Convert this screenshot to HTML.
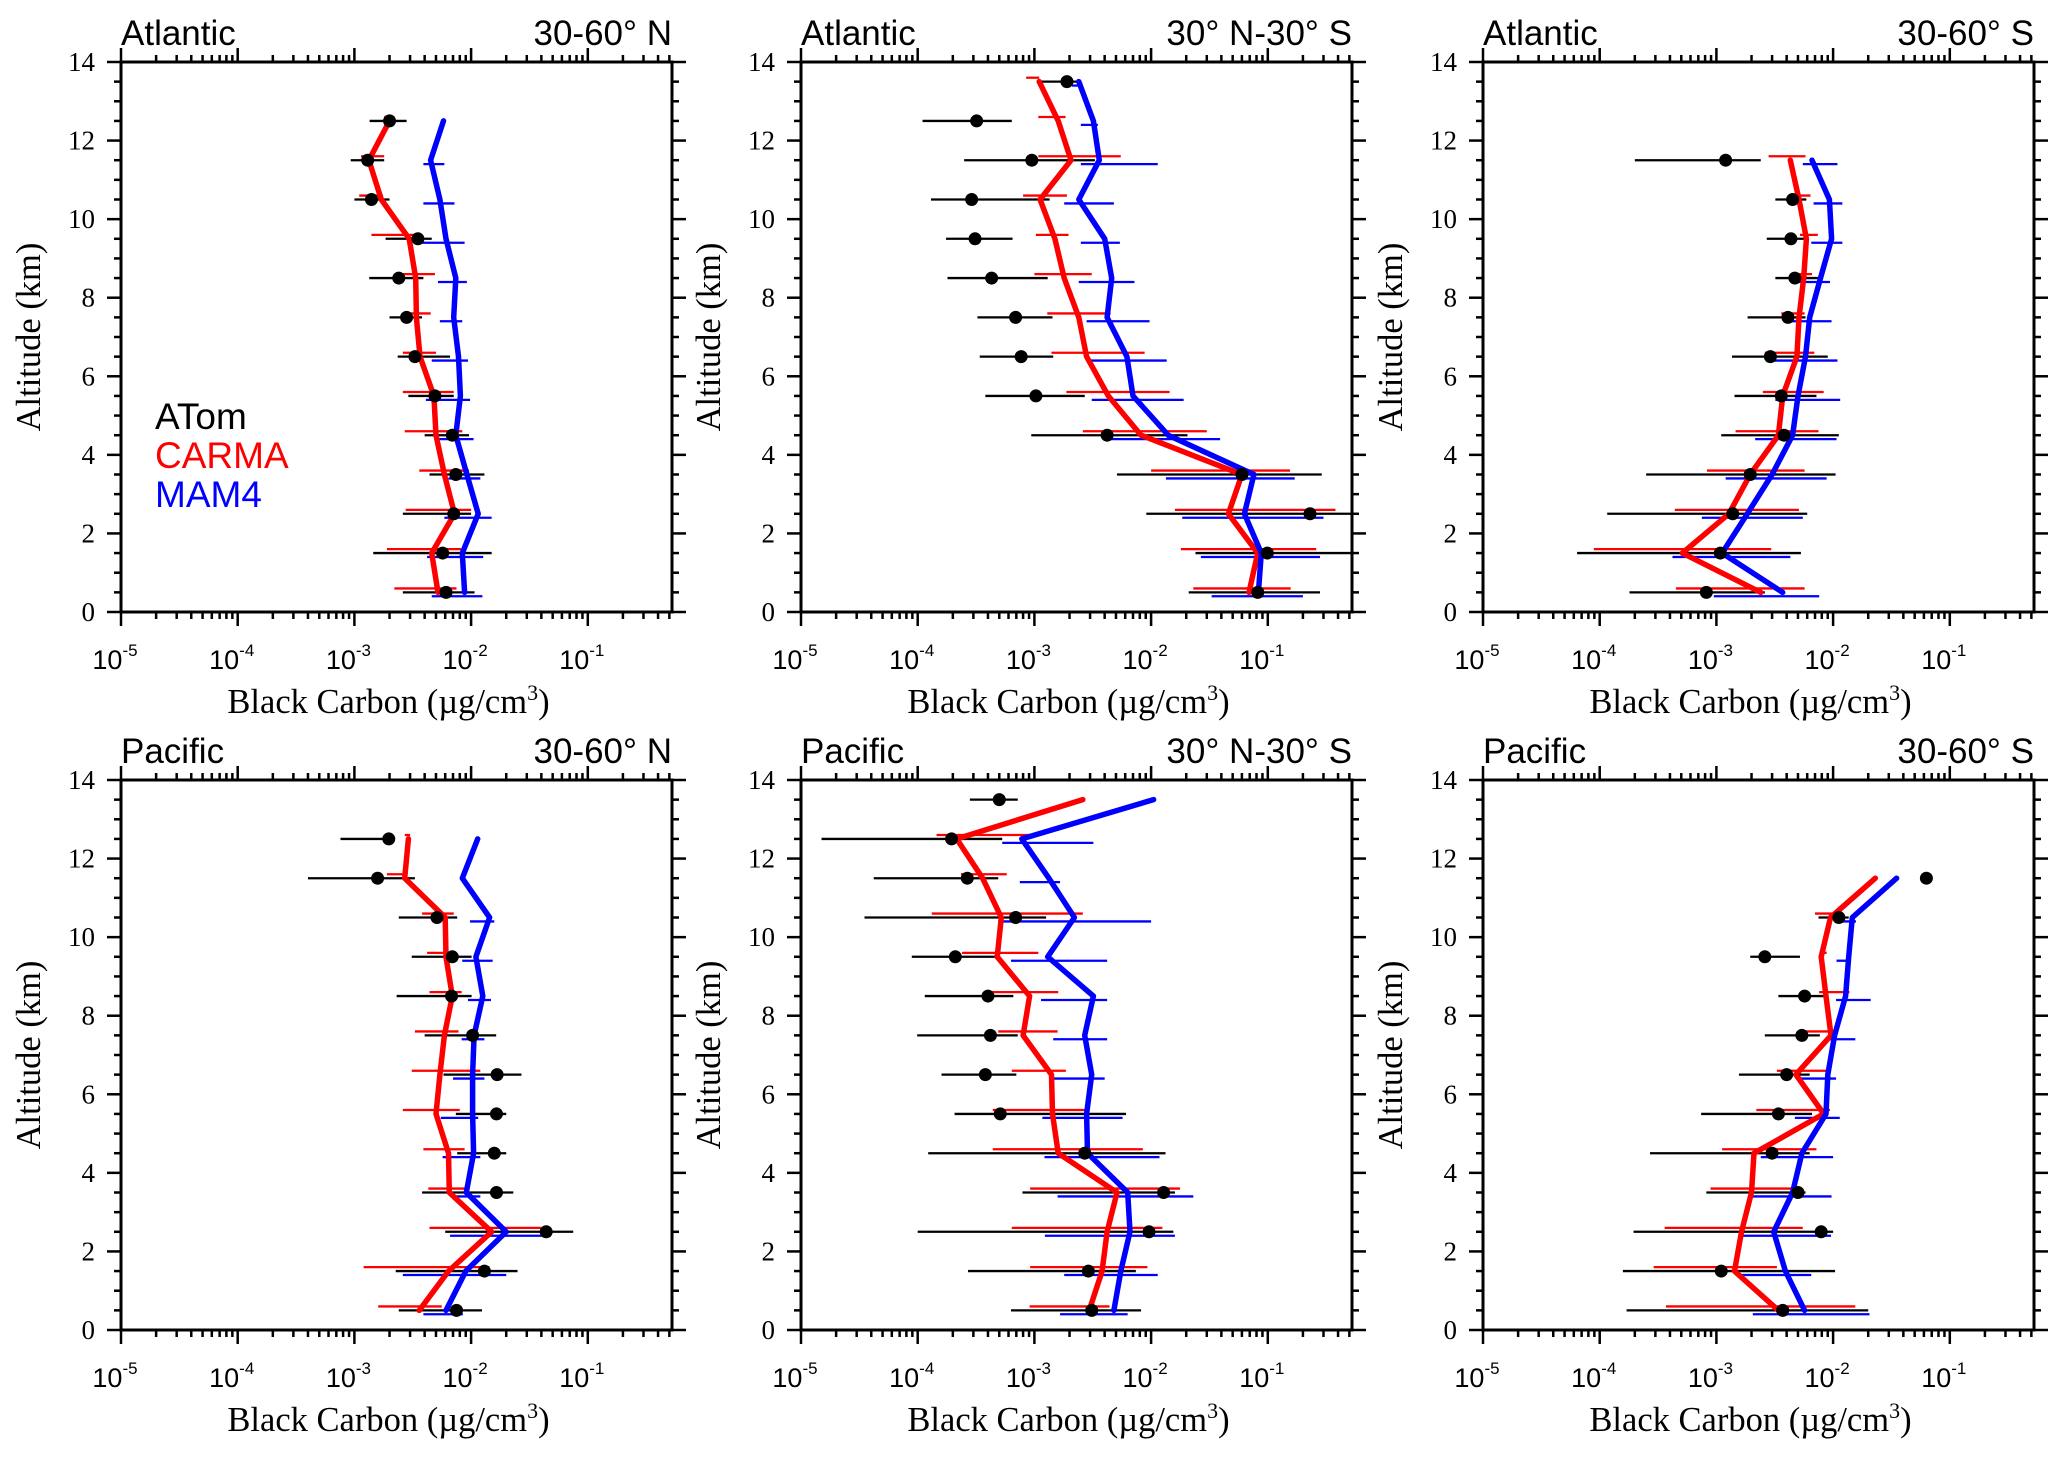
<!DOCTYPE html>
<html><head><meta charset="utf-8"><style>
html,body{margin:0;padding:0;background:#fff;}
svg{display:block;}
.sans{font-family:"Liberation Sans",Arial,sans-serif;}
.serif{font-family:"Liberation Serif","Times New Roman",serif;}
</style></head><body>
<svg id="fig" width="2067" height="1458" viewBox="0 0 2067 1458" xmlns="http://www.w3.org/2000/svg"></svg>
<script>
// ---------- data (values in ug/cm3, altitude in km) ----------
const p1Alt=[12.5,11.5,10.5,9.5,8.5,7.5,6.5,5.5,4.5,3.5,2.5,1.5,0.5];
const p1Atom=[2.0e-3,1.3e-3,1.4e-3,3.5e-3,2.4e-3,2.8e-3,3.3e-3,4.9e-3,6.9e-3,7.4e-3,7.1e-3,5.7e-3,6.1e-3];
const p1AtomLo=[1.35e-3,0.93e-3,1.0e-3,1.85e-3,1.34e-3,2.0e-3,2.35e-3,2.9e-3,4.0e-3,4.4e-3,2.6e-3,1.45e-3,2.6e-3];
const p1AtomHi=[2.8e-3,1.8e-3,2.0e-3,4.6e-3,3.9e-3,3.8e-3,6.6e-3,7.1e-3,9.6e-3,1.3e-2,1.0e-2,1.5e-2,1.07e-2];
const p1Carma=[2.0e-3,1.33e-3,1.7e-3,2.95e-3,3.35e-3,3.4e-3,3.65e-3,4.8e-3,5.0e-3,5.9e-3,7.2e-3,4.6e-3,5.2e-3];
const p1CarmaLo=[1.8e-3,1.14e-3,1.1e-3,1.4e-3,2.4e-3,2.6e-3,2.6e-3,2.6e-3,2.7e-3,3.6e-3,2.75e-3,1.9e-3,2.2e-3];
const p1CarmaHi=[2.2e-3,1.8e-3,1.75e-3,3.8e-3,4.9e-3,4.5e-3,5.0e-3,7.1e-3,8.4e-3,9.6e-3,1.0e-2,8.2e-3,7.5e-3];
const p1Mam=[5.8e-3,4.5e-3,5.4e-3,6.1e-3,7.4e-3,7.1e-3,7.8e-3,8.1e-3,7.4e-3,9.2e-3,1.15e-2,8.4e-3,8.8e-3];
const p1MamLo=[null,3.9e-3,3.9e-3,3.5e-3,5.2e-3,5.4e-3,4.6e-3,4.1e-3,5.0e-3,6.4e-3,5.9e-3,4.2e-3,4.6e-3];
const p1MamHi=[null,5.9e-3,7.2e-3,8.8e-3,9.2e-3,8.4e-3,9.4e-3,9.8e-3,1.05e-2,1.2e-2,1.5e-2,1.27e-2,1.25e-2];

const p2Alt=[13.5,12.5,11.5,10.5,9.5,8.5,7.5,6.5,5.5,4.5,3.5,2.5,1.5,0.5];
const p2Atom=[1.9e-3,3.2e-4,9.5e-4,2.9e-4,3.1e-4,4.3e-4,6.9e-4,7.7e-4,1.03e-3,4.2e-3,6.0e-2,0.23,9.9e-2,8.2e-2];
const p2AtomLo=[1.1e-3,1.1e-4,2.5e-4,1.3e-4,1.75e-4,1.8e-4,3.25e-4,3.4e-4,3.8e-4,9.4e-4,5.1e-3,9.1e-3,2.4e-2,2.1e-2];
const p2AtomHi=[2.4e-3,6.4e-4,3.3e-3,1.35e-3,6.5e-4,1.3e-3,1.43e-3,1.45e-3,2.7e-3,2.05e-2,0.29,0.7,0.6,0.28];
const p2Carma=[1.1e-3,1.6e-3,2.06e-3,1.12e-3,1.5e-3,1.8e-3,2.4e-3,2.8e-3,4.3e-3,8.2e-3,6.0e-2,4.6e-2,8.2e-2,6.9e-2];
const p2CarmaLo=[8.5e-4,1.08e-3,1.08e-3,8.0e-4,1.03e-3,1.0e-3,1.29e-3,1.4e-3,1.88e-3,2.6e-3,1.0e-2,1.6e-2,1.8e-2,2.3e-2];
const p2CarmaHi=[1.1e-3,1.85e-3,5.5e-3,1.9e-3,1.96e-3,3.1e-3,4.5e-3,8.8e-3,1.44e-2,3.0e-2,0.155,0.38,0.26,0.157];
const p2Mam=[2.4e-3,3.2e-3,3.6e-3,2.4e-3,4.0e-3,4.6e-3,4.2e-3,6.2e-3,7.0e-3,1.4e-2,7.6e-2,6.3e-2,8.8e-2,8.3e-2];
const p2MamLo=[2.1e-3,2.5e-3,2.5e-3,1.8e-3,2.5e-3,2.4e-3,2.8e-3,3.0e-3,3.1e-3,4.5e-3,1.34e-2,1.85e-2,2.67e-2,3.3e-2];
const p2MamHi=[2.6e-3,3.5e-3,1.14e-2,4.8e-3,5.4e-3,7.2e-3,9.7e-3,1.36e-2,1.9e-2,3.9e-2,0.17,0.30,0.28,0.20];

const p3Alt=[11.5,10.5,9.5,8.5,7.5,6.5,5.5,4.5,3.5,2.5,1.5,0.5];
const p3Atom=[1.2e-3,4.5e-3,4.35e-3,4.7e-3,4.1e-3,2.9e-3,3.6e-3,3.8e-3,1.95e-3,1.38e-3,1.08e-3,8.2e-4];
const p3AtomLo=[2.0e-4,3.2e-3,2.7e-3,3.2e-3,1.85e-3,1.36e-3,1.43e-3,1.1e-3,2.5e-4,1.16e-4,6.4e-5,1.8e-4];
const p3AtomHi=[2.4e-3,5.9e-3,5.7e-3,7.7e-3,5.8e-3,9.0e-3,7.2e-3,1.12e-2,1.05e-2,6.0e-3,5.3e-3,2.6e-3];
const p3Carma=[4.3e-3,5.1e-3,5.9e-3,5.6e-3,5.1e-3,4.9e-3,3.7e-3,3.4e-3,1.95e-3,1.28e-3,5.1e-4,2.4e-3];
const p3CarmaLo=[2.8e-3,4.5e-3,5.2e-3,4.5e-3,3.6e-3,2.6e-3,2.5e-3,1.46e-3,8.3e-4,4.4e-4,8.9e-5,4.5e-4];
const p3CarmaHi=[5.8e-3,6.4e-3,7.4e-3,6.6e-3,5.7e-3,6.9e-3,8.3e-3,7.5e-3,5.7e-3,5.1e-3,2.95e-3,5.7e-3];
const p3Mam=[6.6e-3,9.3e-3,9.7e-3,7.8e-3,6.3e-3,5.8e-3,5.0e-3,4.5e-3,3.0e-3,1.84e-3,1.12e-3,3.7e-3];
const p3MamLo=[5.5e-3,6.8e-3,6.5e-3,5.1e-3,3.9e-3,3.1e-3,3.2e-3,2.15e-3,1.2e-3,7.5e-4,4.2e-4,9.5e-4];
const p3MamHi=[1.09e-2,1.2e-2,1.2e-2,9.4e-3,9.7e-3,1.09e-2,1.15e-2,1.07e-2,8.8e-3,5.5e-3,4.3e-3,7.6e-3];

const p4Alt=[12.5,11.5,10.5,9.5,8.5,7.5,6.5,5.5,4.5,3.5,2.5,1.5,0.5];
const p4Atom=[1.97e-3,1.58e-3,5.1e-3,6.9e-3,6.8e-3,1.03e-2,1.67e-2,1.65e-2,1.58e-2,1.65e-2,4.4e-2,1.3e-2,7.5e-3];
const p4AtomLo=[7.6e-4,4.0e-4,2.4e-3,3.1e-3,2.3e-3,4.0e-3,5.8e-3,7.4e-3,7.6e-3,3.8e-3,6.0e-3,2.26e-3,2.4e-3];
const p4AtomHi=[2.2e-3,3.3e-3,7.6e-3,1.01e-2,1.01e-2,1.64e-2,2.7e-2,2.0e-2,2.0e-2,2.3e-2,7.5e-2,2.5e-2,1.24e-2];
const p4Carma=[2.9e-3,2.7e-3,6.0e-3,6.1e-3,6.9e-3,5.9e-3,5.4e-3,5.0e-3,6.4e-3,6.5e-3,1.5e-2,6.4e-3,3.6e-3];
const p4CarmaLo=[2.7e-3,1.9e-3,3.8e-3,4.2e-3,4.4e-3,3.3e-3,3.1e-3,2.6e-3,3.9e-3,4.3e-3,4.4e-3,1.2e-3,1.6e-3];
const p4CarmaHi=[3.0e-3,2.7e-3,7.1e-3,7.0e-3,8.3e-3,7.8e-3,1.2e-2,8.0e-3,8.8e-3,8.8e-3,4.0e-2,1.44e-2,5.6e-3];
const p4Mam=[1.14e-2,8.4e-3,1.44e-2,1.1e-2,1.26e-2,1.06e-2,1.03e-2,1.03e-2,1.05e-2,9.1e-3,2.0e-2,9.0e-3,6.1e-3];
const p4MamLo=[null,null,9.8e-3,8.4e-3,9.4e-3,8.3e-3,7.0e-3,5.5e-3,5.7e-3,7.1e-3,6.6e-3,2.6e-3,3.9e-3];
const p4MamHi=[null,null,1.58e-2,1.53e-2,1.48e-2,1.3e-2,1.3e-2,1.15e-2,1.2e-2,1.2e-2,4.8e-2,2.0e-2,8.5e-3];

const p5Alt=[13.5,12.5,11.5,10.5,9.5,8.5,7.5,6.5,5.5,4.5,3.5,2.5,1.5,0.5];
const p5Atom=[5.0e-4,1.95e-4,2.66e-4,6.9e-4,2.1e-4,4.0e-4,4.2e-4,3.8e-4,5.1e-4,2.7e-3,1.28e-2,9.6e-3,2.9e-3,3.1e-3];
const p5AtomLo=[2.8e-4,1.5e-5,4.2e-5,3.5e-5,8.9e-5,1.15e-4,9.9e-5,1.6e-4,2.07e-4,1.23e-4,7.9e-4,1.0e-4,2.7e-4,6.3e-4];
const p5AtomHi=[7.2e-4,5.3e-4,4.9e-4,1.26e-3,4.9e-4,6.6e-4,7.2e-4,7.0e-4,6.1e-3,1.33e-2,1.6e-2,1.55e-2,7.4e-3,8.2e-3];
const p5Carma=[2.6e-3,2.16e-4,3.6e-4,5.2e-4,4.8e-4,9.1e-4,8.0e-4,1.4e-3,1.43e-3,1.6e-3,5.1e-3,4.2e-3,3.8e-3,2.95e-3];
const p5CarmaLo=[null,1.45e-4,2.35e-4,1.32e-4,2.4e-4,4.0e-4,4.9e-4,6.4e-4,4.4e-4,4.4e-4,9.2e-4,6.4e-4,9.2e-4,9.1e-4];
const p5CarmaHi=[null,9.4e-4,5.8e-4,2.6e-3,1.08e-3,1.6e-3,1.58e-3,1.86e-3,2.97e-3,8.5e-3,1.77e-2,1.25e-2,9.3e-3,4.4e-3];
const p5Mam=[1.05e-2,7.8e-4,1.33e-3,2.2e-3,1.3e-3,3.2e-3,2.7e-3,3.1e-3,2.8e-3,2.85e-3,6.3e-3,6.6e-3,5.5e-3,4.8e-3];
const p5MamLo=[null,5.3e-4,7.5e-4,4.9e-4,6.3e-4,1.14e-3,1.45e-3,1.45e-3,1.17e-3,1.22e-3,1.58e-3,1.23e-3,1.8e-3,1.66e-3];
const p5MamHi=[null,3.2e-3,1.66e-3,1.0e-2,4.2e-3,4.2e-3,4.2e-3,4.0e-3,5.7e-3,1.18e-2,2.3e-2,1.6e-2,1.14e-2,6.3e-3];

const p6Alt=[11.5,10.5,9.5,8.5,7.5,6.5,5.5,4.5,3.5,2.5,1.5,0.5];
const p6Atom=[6.3e-2,1.12e-2,2.6e-3,5.7e-3,5.4e-3,4.0e-3,3.4e-3,3.0e-3,5.0e-3,7.9e-3,1.1e-3,3.7e-3];
const p6AtomLo=[null,7.5e-3,1.95e-3,3.4e-3,2.6e-3,1.56e-3,7.4e-4,2.7e-4,8.2e-4,1.95e-4,1.58e-4,1.7e-4];
const p6AtomHi=[null,1.36e-2,5.2e-3,8.8e-3,7.7e-3,6.3e-3,6.6e-3,6.3e-3,5.8e-3,1.0e-2,1.04e-2,2.0e-2];
const p6Carma=[2.3e-2,9.5e-3,7.9e-3,8.7e-3,9.6e-3,4.8e-3,8.3e-3,2.1e-3,2.0e-3,1.64e-3,1.43e-3,3.4e-3];
const p6CarmaLo=[null,7.0e-3,7.7e-3,7.6e-3,5.6e-3,3.3e-3,2.2e-3,1.12e-3,8.9e-4,3.6e-4,2.9e-4,3.7e-4];
const p6CarmaHi=[null,1.0e-2,8.8e-3,1.38e-2,1.06e-2,9.6e-3,9.4e-3,7.2e-3,5.0e-3,5.5e-3,3.3e-3,1.55e-2];
const p6Mam=[3.5e-2,1.46e-2,1.36e-2,1.28e-2,1.03e-2,9.0e-3,8.7e-3,5.4e-3,4.5e-3,3.1e-3,3.9e-3,5.7e-3];
const p6MamLo=[null,1.03e-2,1.07e-2,1.06e-2,8.5e-3,5.1e-3,4.7e-3,2.4e-3,1.9e-3,1.64e-3,1.6e-3,2.05e-3];
const p6MamHi=[null,1.57e-2,1.41e-2,2.1e-2,1.55e-2,1.06e-2,1.14e-2,1.0e-2,9.7e-3,9.6e-3,6.5e-3,2.05e-2];

const yTicks=[0,2,4,6,8,10,12,14];
const xTickExp=[-5,-4,-3,-2,-1];
const legendLabels=["ATom","CARMA","MAM4"];

// ---------- drawing ----------
const NS="http://www.w3.org/2000/svg";
const svg=document.getElementById('fig');
const PW=551, PH=550, DEC=116.7, XMINLOG=-5, YMAX=14;
function mk(tag,attrs,parent){const e=document.createElementNS(NS,tag);for(const k in attrs)e.setAttribute(k,attrs[k]);(parent||svg).appendChild(e);return e;}

const panels=[
 {x0:121,y0:62,ocean:"Atlantic",region:"30-60° N",alt:p1Alt,atom:p1Atom,aLo:p1AtomLo,aHi:p1AtomHi,carma:p1Carma,cLo:p1CarmaLo,cHi:p1CarmaHi,mam:p1Mam,mLo:p1MamLo,mHi:p1MamHi,legend:true},
 {x0:801,y0:62,ocean:"Atlantic",region:"30° N-30° S",alt:p2Alt,atom:p2Atom,aLo:p2AtomLo,aHi:p2AtomHi,carma:p2Carma,cLo:p2CarmaLo,cHi:p2CarmaHi,mam:p2Mam,mLo:p2MamLo,mHi:p2MamHi},
 {x0:1483,y0:62,ocean:"Atlantic",region:"30-60° S",alt:p3Alt,atom:p3Atom,aLo:p3AtomLo,aHi:p3AtomHi,carma:p3Carma,cLo:p3CarmaLo,cHi:p3CarmaHi,mam:p3Mam,mLo:p3MamLo,mHi:p3MamHi},
 {x0:121,y0:780,ocean:"Pacific",region:"30-60° N",alt:p4Alt,atom:p4Atom,aLo:p4AtomLo,aHi:p4AtomHi,carma:p4Carma,cLo:p4CarmaLo,cHi:p4CarmaHi,mam:p4Mam,mLo:p4MamLo,mHi:p4MamHi},
 {x0:801,y0:780,ocean:"Pacific",region:"30° N-30° S",alt:p5Alt,atom:p5Atom,aLo:p5AtomLo,aHi:p5AtomHi,carma:p5Carma,cLo:p5CarmaLo,cHi:p5CarmaHi,mam:p5Mam,mLo:p5MamLo,mHi:p5MamHi},
 {x0:1483,y0:780,ocean:"Pacific",region:"30-60° S",alt:p6Alt,atom:p6Atom,aLo:p6AtomLo,aHi:p6AtomHi,carma:p6Carma,cLo:p6CarmaLo,cHi:p6CarmaHi,mam:p6Mam,mLo:p6MamLo,mHi:p6MamHi}
];

panels.forEach((p,i)=>{
  const g=mk('g',{});
  
  
  const sx=v=>p.x0+(Math.log10(v)-XMINLOG)*DEC;
  const sy=a=>p.y0+(YMAX-a)/YMAX*PH;
  const cid='clip'+i;
  const cp=mk('clipPath',{id:cid},g); mk('rect',{x:p.x0,y:p.y0,width:PW,height:PH},cp);

  // ticks
  const tk=mk('g',{stroke:'#000','stroke-width':2.5},g);
  
  
  for(let a=0;a<=YMAX+1e-9;a+=0.5){
    const major=Math.abs(a%2)<1e-9, L=major?14:7, y=sy(a);
    mk('line',{x1:p.x0-L,y1:y,x2:p.x0,y2:y},tk);
    mk('line',{x1:p.x0+PW,y1:y,x2:p.x0+PW+L,y2:y},tk);
  }
  for(let e=-5;e<=0;e++){
    for(let m=1;m<=9;m++){
      const v=m*Math.pow(10,e); const x=sx(v);
      if(x>p.x0+PW+0.5) break;
      const L=(m===1)?14:7;
      mk('line',{x1:x,y1:p.y0+PH,x2:x,y2:p.y0+PH+L},tk);
      mk('line',{x1:x,y1:p.y0,x2:x,y2:p.y0-L},tk);
    }
  }
  // frame
  const fr=mk('rect',{x:p.x0,y:p.y0,width:PW,height:PH,fill:'none',stroke:'#000','stroke-width':3},g);
  
  

  // y tick labels
  yTicks.forEach(t=>{
    const tl=mk('text',{x:p.x0-26,y:sy(t)+9,'text-anchor':'end','font-size':27,class:'serif'},g);
    tl.textContent=t;
    
    
  });
  // x tick labels
  xTickExp.forEach(e=>{
    const x=sx(Math.pow(10,e));
    const tl=mk('text',{x:x-6,y:p.y0+PH+57,'text-anchor':'middle','font-size':27,class:'sans'},g);
    tl.textContent='10';
    const sp=mk('tspan',{dy:-13,'font-size':17},tl); sp.textContent=String(e);
    
    
  });
  // axis titles
  const xt=mk('text',{x:p.x0+PW/2-8,y:p.y0+PH+101,'text-anchor':'middle','font-size':34.5,class:'serif'},g);
  xt.textContent='Black Carbon (µg/cm';
  const xs=mk('tspan',{dy:-13,'font-size':22},xt); xs.textContent='3';
  const xs2=mk('tspan',{dy:13},xt); xs2.textContent=')';
  
  
  const cy=p.y0+PH/2;
  const yx=p.x0-92;
  const yt=mk('text',{x:yx,y:cy,'text-anchor':'middle','font-size':34.5,class:'serif',transform:`rotate(-90 ${yx} ${cy})`,'dominant-baseline':'central'},g);
  yt.textContent='Altitude (km)';
  
  
  // panel titles
  const t1=mk('text',{x:p.x0,y:p.y0-17,'font-size':35,class:'sans'},g);
  t1.textContent=p.ocean;
  
  
  const t2=mk('text',{x:p.x0+PW,y:p.y0-17,'text-anchor':'end','font-size':35,class:'sans'},g);
  t2.textContent=p.region;
  
  

  // data
  const dg=mk('g',{'clip-path':`url(#${cid})`},g);
  function errbars(vals,lo,hi,color,off,name){
    const eg=mk('g',{stroke:color,'stroke-width':2.3},dg);
    
    
    p.alt.forEach((a,k)=>{
      if(lo[k]==null||hi[k]==null) return;
      const y=sy(a+off);
      mk('line',{x1:sx(lo[k]),y1:y,x2:sx(hi[k]),y2:y},eg);
    });
  }
  function line(vals,color,name){
    const pts=p.alt.map((a,k)=>sx(vals[k]).toFixed(1)+','+sy(a).toFixed(1)).join(' ');
    const pl=mk('polyline',{points:pts,fill:'none',stroke:color,'stroke-width':5.5,'stroke-linejoin':'round','stroke-linecap':'round'},dg);
    
    
  }
  errbars(p.carma,p.cLo,p.cHi,'#ff0000',0.1,'carma-error-bars');
  errbars(p.mam,p.mLo,p.mHi,'#0000ff',-0.1,'mam4-error-bars');
  errbars(p.atom,p.aLo,p.aHi,'#000',0,'atom-error-bars');
  line(p.carma,'#ff0000','carma-line');
  line(p.mam,'#0000ff','mam4-line');
  const mg=mk('g',{fill:'#000'},dg);
  
  
  p.alt.forEach((a,k)=>{
    const c=mk('circle',{cx:sx(p.atom[k]),cy:sy(a),r:6.5},mg);
    
    
  });

  if(p.legend){
    const colors=['#000','#ff0000','#0000ff'];
    legendLabels.forEach((lab,k)=>{
      const lt=mk('text',{x:155,y:429+k*39,'font-size':37,class:'sans',fill:colors[k]},g);
      lt.textContent=lab;
      
      
    });
  }
});
</script>
</body></html>
